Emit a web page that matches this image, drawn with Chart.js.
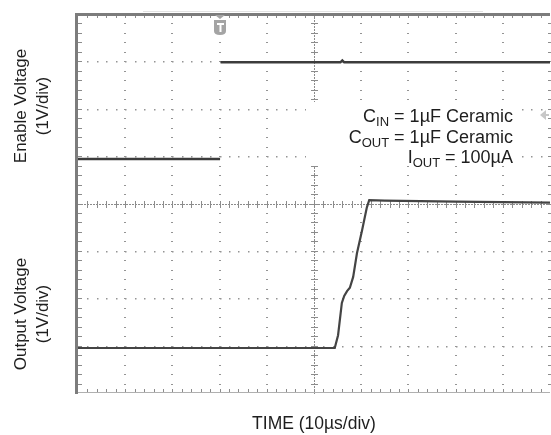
<!DOCTYPE html>
<html><head><meta charset="utf-8">
<script src="https://cdn.jsdelivr.net/npm/chart.js@4"></script>
<style>html,body{margin:0;padding:0;background:#fff;}#wrap{width:551px;height:435px;}</style>
</head><body><div id="wrap"><canvas id="c" width="551" height="435"></canvas></div>
<script>
// x in divisions (10 µs/div), y in divisions (1 V/div)
const enableTime  = [0, 3.01, 3.015, 3.02, 5.56, 5.60, 5.64, 10];
const enableLevel = [4.94, 4.94, null, 6.98, 6.98, 7.02, 6.98, 6.98];
const outputTime  = [0, 5.44, 5.51, 5.59, 5.64, 5.70, 5.76, 5.83, 5.91, 6.02, 6.12, 6.17, 6.5, 8, 10];
const outputLevel = [0.95, 0.95, 1.22, 1.90, 2.05, 2.15, 2.22, 2.45, 2.95, 3.44, 3.92, 4.07, 4.06, 4.04, 4.02];
const triggerTime = 3.0;
const yTitles = [["Enable Voltage", "(1V/div)"], ["Output Voltage", "(1V/div)"]];
const xTitle = "TIME (10µs/div)";
const notes = [["C", "IN", " = 1µF Ceramic"], ["C", "OUT", " = 1µF Ceramic"], ["I", "OUT", " = 100µA"]];

const pts = (xs, ys) => xs.map((v, i) => ({x: v, y: ys[i]}));
const FONT = '"Liberation Sans", Arial, sans-serif';

const scope = {
  id: 'scope',
  beforeDatasetsDraw(chart) {
    const {ctx, chartArea: a, scales: {x, y}} = chart;
    ctx.save();
    // dotted grid
    ctx.fillStyle = '#949494';
    for (let i = 1; i <= 10; i++) {
      if (i === 5) continue;
      const px = Math.round(x.getPixelForValue(i));
      for (let j = 1; j < 40; j++) {
        const py = Math.round(y.getPixelForValue(j / 5));
        ctx.fillRect(px - 1, py, 2, 1);
      }
    }
    for (let j = 1; j < 8; j++) {
      if (j === 4) continue;
      const py = Math.round(y.getPixelForValue(j));
      for (let i = 1; i < 50; i++) {
        const px = Math.round(x.getPixelForValue(i / 5));
        ctx.fillRect(px, py, 1.5, 1.5);
      }
    }
    // center crosshair
    ctx.fillStyle = '#8c8c8c';
    const cx = Math.round(x.getPixelForValue(5)), cy = Math.round(y.getPixelForValue(4));
    for (let p = a.left; p < a.right; p += 3) ctx.fillRect(p, cy, 2, 1);
    for (let p = a.top; p < a.bottom; p += 3) ctx.fillRect(cx, p, 1, 2);
    for (let i = 1; i < 50; i++) {
      const px = Math.round(x.getPixelForValue(i / 5));
      ctx.fillRect(px, cy - 3, 1, 7);
      ctx.fillRect(px, a.top, 1, 4);
      ctx.fillRect(px, a.bottom - 4, 1, 4);
    }
    for (let j = 1; j < 40; j++) {
      const py = Math.round(y.getPixelForValue(j / 5));
      ctx.fillRect(cx - 3, py, 7, 1);
      ctx.fillRect(a.left, py, 4, 1);
      ctx.fillRect(a.right - 2, py, 2, 1);
    }
    // frame
    ctx.fillStyle = '#7c7c7c';
    ctx.fillRect(a.left - 3, a.top - 1, a.right - a.left + 3, 3);
    ctx.fillRect(a.left - 3, a.top - 1, 3, a.bottom - a.top + 2);
    ctx.fillStyle = '#b0b0b0';
    ctx.fillRect(a.left, a.bottom - 1, a.right - a.left, 1);
    // faint line above
    ctx.fillStyle = '#e2e2e2';
    ctx.fillRect(143, a.top - 3, 340, 1);
    // white box behind notes
    ctx.fillStyle = '#fff';
    ctx.fillRect(306, 102, 210, 64);
    ctx.restore();
  },
  afterDatasetsDraw(chart) {
    const {ctx, chartArea: a, scales: {x, y}} = chart;
    ctx.save();
    // trigger marker
    const tx = Math.round(x.getPixelForValue(triggerTime));
    ctx.fillStyle = '#a4a4a4';
    ctx.beginPath();
    ctx.moveTo(tx - 5, a.top + 1); ctx.lineTo(tx + 5, a.top + 1); ctx.lineTo(tx, a.top + 5); ctx.closePath(); ctx.fill();
    ctx.beginPath();
    ctx.moveTo(tx - 6, a.top + 6); ctx.lineTo(tx + 6, a.top + 6); ctx.lineTo(tx + 6, a.top + 17);
    ctx.quadraticCurveTo(tx + 6, a.top + 21, tx, a.top + 21);
    ctx.quadraticCurveTo(tx - 6, a.top + 21, tx - 6, a.top + 17);
    ctx.closePath(); ctx.fill();
    ctx.fillStyle = '#fff';
    ctx.fillRect(tx - 3, a.top + 9, 7, 2);
    ctx.fillRect(tx - 0.5, a.top + 9, 2, 9);
    // right level marker
    ctx.fillStyle = '#c8c8c8';
    ctx.beginPath();
    ctx.moveTo(a.right - 10, 115); ctx.lineTo(a.right - 4, 110); ctx.lineTo(a.right - 4, 120); ctx.closePath(); ctx.fill();
    ctx.fillRect(a.right - 5, 114, 4, 2);
    // axis titles
    ctx.fillStyle = '#1e1e1e';
    ctx.font = '17px ' + FONT;
    ctx.textAlign = 'center';
    ctx.textBaseline = 'middle';
    const centers = [106, 314];
    yTitles.forEach((t, k) => {
      ctx.save();
      ctx.translate(0, centers[k]);
      ctx.rotate(-Math.PI / 2);
      ctx.fillText(t[0], 0, 21);
      ctx.fillText(t[1], 0, 43);
      ctx.restore();
    });
    ctx.font = '17.5px ' + FONT;
    ctx.fillText(xTitle, 314, 424);
    // notes, right aligned
    const right = 513, base = [122, 143, 163];
    ctx.textAlign = 'left';
    ctx.textBaseline = 'alphabetic';
    notes.forEach((n, k) => {
      ctx.font = '18px ' + FONT;
      const w0 = ctx.measureText(n[0]).width, w2 = ctx.measureText(n[2]).width;
      ctx.font = '13px ' + FONT;
      const w1 = ctx.measureText(n[1]).width;
      let px = right - w0 - w1 - w2;
      ctx.font = '18px ' + FONT;
      ctx.fillText(n[0], px, base[k]); px += w0;
      ctx.font = '13px ' + FONT;
      ctx.fillText(n[1], px, base[k] + 4); px += w1;
      ctx.font = '18px ' + FONT;
      ctx.fillText(n[2], px, base[k]);
    });
    ctx.restore();
  }
};

new Chart(document.getElementById('c'), {
  type: 'line',
  data: {
    datasets: [
      {data: pts(enableTime, enableLevel), borderColor: '#3c3c3c', borderWidth: 2.5, pointRadius: 0, tension: 0, spanGaps: false},
      {data: pts(outputTime, outputLevel), borderColor: '#444', borderWidth: 2.2, pointRadius: 0, tension: 0}
    ]
  },
  options: {
    responsive: false, animation: false, devicePixelRatio: 1,
    layout: {padding: {left: 78, right: 1, top: 14, bottom: 42}},
    plugins: {legend: {display: false}, tooltip: {enabled: false}},
    scales: {
      x: {type: 'linear', min: 0, max: 10, display: false},
      y: {type: 'linear', min: 0, max: 8, display: false}
    }
  },
  plugins: [scope]
});
</script></body></html>
